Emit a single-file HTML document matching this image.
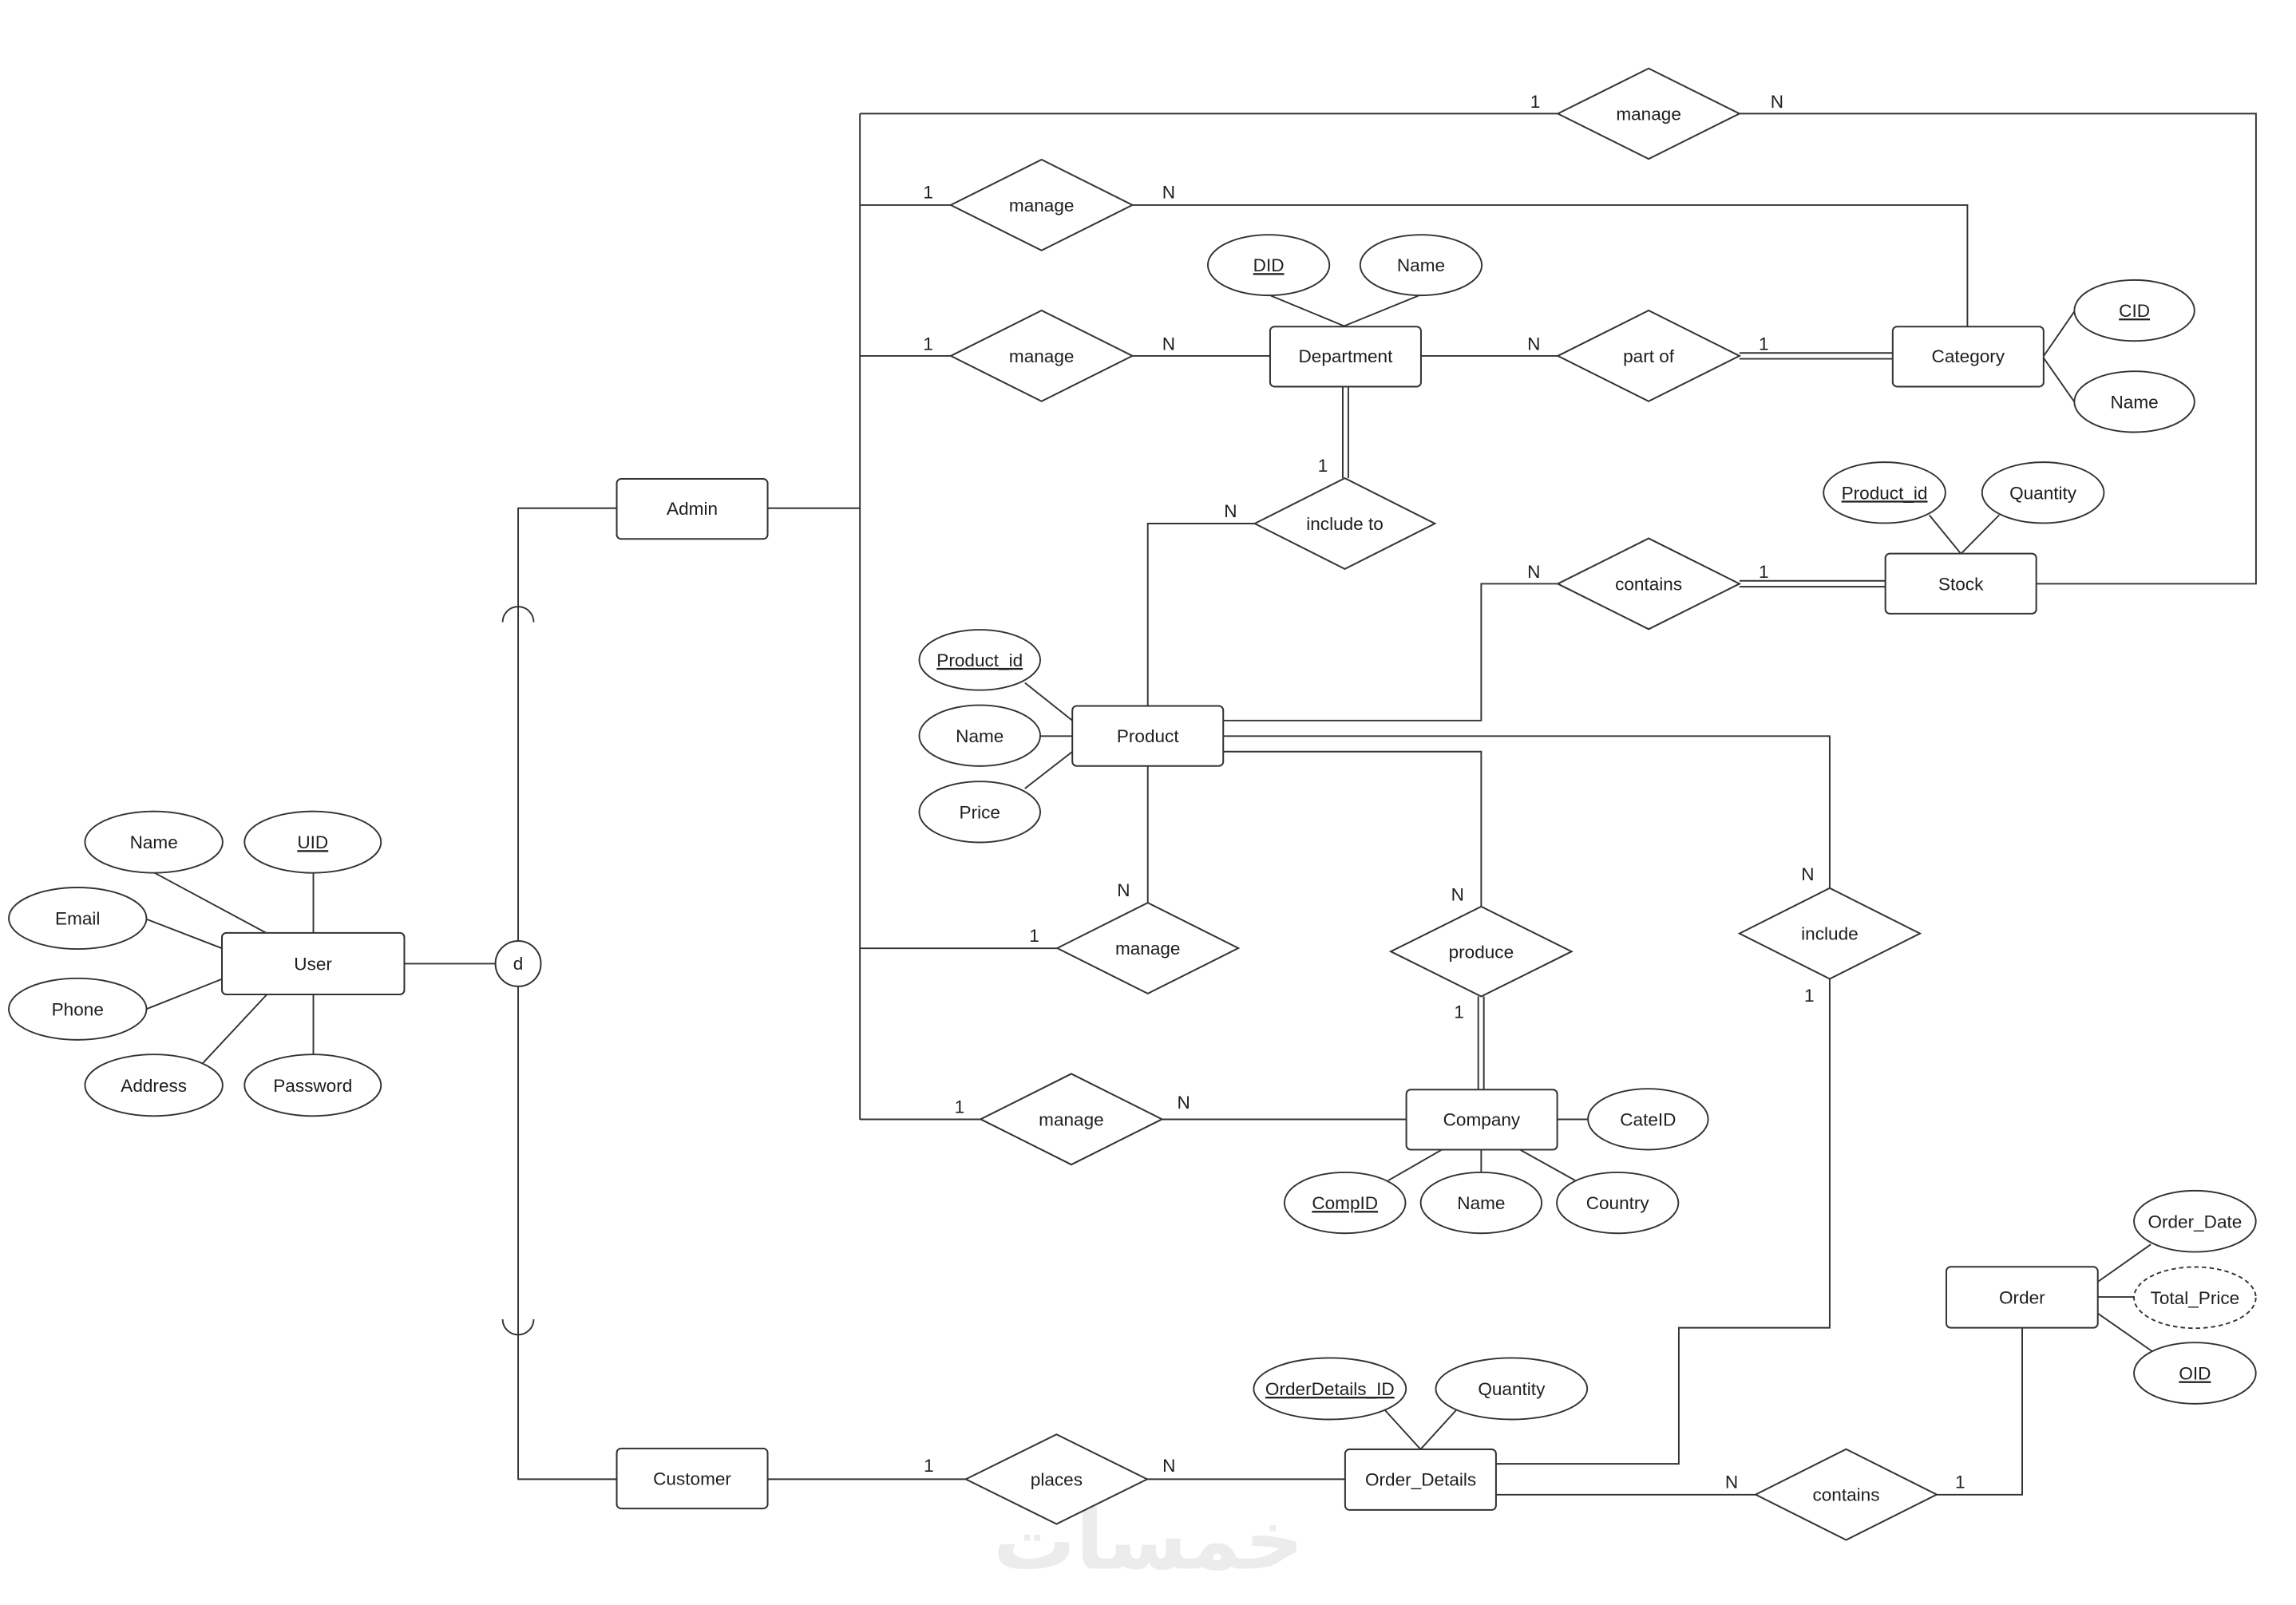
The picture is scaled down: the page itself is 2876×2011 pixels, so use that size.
<!DOCTYPE html>
<html>
<head>
<meta charset="utf-8">
<style>
  html,body{margin:0;padding:0;background:#ffffff;}
  svg{display:block;}
  text{font-family:"Liberation Sans", Arial, sans-serif;font-size:12.3px;fill:#1e1e1e;}
  .lbl{text-anchor:middle;}
  .u{text-decoration:underline;}
</style>
</head>
<body>
<svg width="2876" height="2011" viewBox="0 0 1567.3 1095.9" preserveAspectRatio="none" xmlns="http://www.w3.org/2000/svg">
  <rect x="0" y="0" width="1567.3" height="1095.9" fill="#ffffff"/>

  <!-- watermark -->
  <text x="784" y="1071" style="font-family:'DejaVu Sans',sans-serif;font-size:56px;font-weight:bold;fill:#ececec;text-anchor:middle;">خمسات</text>

  <g fill="none" stroke="#333" stroke-width="1.05">
    <!-- Admin trunk -->
    <path d="M587,77.6 V764.5"/>
    <path d="M524,347 H587"/>
    <!-- top manage to Stock -->
    <path d="M587,77.6 H1063.4"/>
    <path d="M1187.4,77.6 H1540 V398.6 H1390"/>
    <!-- manage 2 to Category -->
    <path d="M587,140 H649"/>
    <path d="M773,140 H1343 V223"/>
    <!-- manage 3 to Department -->
    <path d="M587,243 H649"/>
    <path d="M773,243 H867"/>
    <!-- Admin / Customer / d -->
    <path d="M421,347 H353.7 V642.5"/>
    <path d="M353.7,673.5 V1010 H421"/>
    <path d="M276,658 H338.2"/>
    <!-- subset arcs -->
    <path d="M343.1,424.8 A10.6,10.6 0 0 1 364.3,424.8"/>
    <path d="M343.1,900.8 A10.6,10.6 0 0 0 364.3,900.8"/>
    <!-- manage 4 to Product -->
    <path d="M587,647.5 H721.7"/>
    <path d="M783.5,616.4 V523"/>
    <path d="M783.5,482 V357.5 H856.5"/>
    <!-- manage 5 to Company -->
    <path d="M587,764.3 H669.4"/>
    <path d="M793.2,764.3 H959.8"/>
    <!-- Department - include to (double) -->
    <path d="M916.6,264 V326.5"/>
    <path d="M920.4,264 V326.5"/>
    <!-- Department - part of -->
    <path d="M970,243 H1063.4"/>
    <!-- part of - Category (double) -->
    <path d="M1187.4,241 H1292"/>
    <path d="M1187.4,245 H1292"/>
    <!-- Product lines -->
    <path d="M835,492 H1011.1 V398.6 H1063.4"/>
    <path d="M835,502.6 H1249 V606.4"/>
    <path d="M835,513.2 H1011.1 V619"/>
    <!-- contains - Stock (double) -->
    <path d="M1187.4,396.6 H1287"/>
    <path d="M1187.4,400.6 H1287"/>
    <!-- produce - Company (double) -->
    <path d="M1009.1,680.4 V744"/>
    <path d="M1012.9,680.4 V744"/>
    <!-- include - Order_Details -->
    <path d="M1249,668.4 V906.6 H1146 V999.5 H1021.3"/>
    <!-- Order_Details - contains - Order -->
    <path d="M1021.3,1020.6 H1198.4"/>
    <path d="M1322,1020.6 H1380.4 V906.6"/>
    <!-- Customer - places - Order_Details -->
    <path d="M524,1010 H659.3"/>
    <path d="M783.1,1010 H918.2"/>

    <!-- attribute connectors: User -->
    <path d="M105.5,596 L181.7,637"/>
    <path d="M213.9,596 V637"/>
    <path d="M99.9,627.6 L151.5,647.5"/>
    <path d="M99.9,689 L151.5,668.5"/>
    <path d="M138.4,726 L182.2,679"/>
    <path d="M213.9,679 V720"/>
    <!-- Department -->
    <path d="M867.5,201.9 L917.5,222.6 L968.3,201.9"/>
    <!-- Category -->
    <path d="M1416,212.7 L1394.6,243.8 L1416,274.4"/>
    <!-- Stock -->
    <path d="M1317,351.7 L1338.6,378.1 L1364.7,351.7"/>
    <!-- Product -->
    <path d="M699.6,466.2 L731.8,491.8"/>
    <path d="M710,502.6 H731.8"/>
    <path d="M699.6,538.4 L731.8,513.4"/>
    <!-- Company -->
    <path d="M1062.8,764.3 H1084"/>
    <path d="M947.7,806 L984.8,784.7"/>
    <path d="M1011.1,784.7 V800.4"/>
    <path d="M1037,784.7 L1075.2,806"/>
    <!-- Order_Details -->
    <path d="M944.9,962.3 L969.7,989.6 L994.5,962.3"/>
    <!-- Order -->
    <path d="M1432,875.2 L1468.2,849.7"/>
    <path d="M1432,885.6 H1456.7"/>
    <path d="M1432,896.8 L1469,922.6"/>
  </g>

  <!-- d circle -->
  <circle cx="353.7" cy="658" r="15.5" fill="#fff" stroke="#333" stroke-width="1.1"/>

  <!-- Entities -->
  <g fill="#fff" stroke="#333" stroke-width="1.1">
    <rect x="421" y="327" width="103" height="41" rx="3"/>
    <rect x="151.5" y="637" width="124.5" height="42" rx="3"/>
    <rect x="867" y="223" width="103" height="41" rx="3"/>
    <rect x="1292" y="223" width="103" height="41" rx="3"/>
    <rect x="1287" y="378" width="103" height="41" rx="3"/>
    <rect x="732" y="482" width="103" height="41" rx="3"/>
    <rect x="960" y="744" width="103" height="41" rx="3"/>
    <rect x="421" y="989" width="103" height="41" rx="3"/>
    <rect x="918.2" y="989.6" width="103" height="41.4" rx="3"/>
    <rect x="1328.6" y="865" width="103.4" height="41.6" rx="3"/>
  </g>

  <!-- Relationships (diamonds) -->
  <g fill="#fff" stroke="#333" stroke-width="1.1">
    <polygon points="1063.4,77.6 1125.4,46.7 1187.4,77.6 1125.4,108.5"/>
    <polygon points="649,140 711,109 773,140 711,171"/>
    <polygon points="649,243 711,212 773,243 711,274"/>
    <polygon points="1063.4,243 1125.4,212 1187.4,243 1125.4,274"/>
    <polygon points="856.5,357.5 918,326.5 979.5,357.5 918,388.5"/>
    <polygon points="1063.4,398.6 1125.4,367.6 1187.4,398.6 1125.4,429.6"/>
    <polygon points="721.7,647.4 783.5,616.4 845.3,647.4 783.5,678.4"/>
    <polygon points="949.4,649.7 1011.1,619 1072.8,649.7 1011.1,680.4"/>
    <polygon points="1187.4,637.4 1249,606.4 1310.6,637.4 1249,668.4"/>
    <polygon points="669.4,764.2 731.3,733.2 793.2,764.2 731.3,795.2"/>
    <polygon points="659.3,1010 721.2,979.4 783.1,1010 721.2,1040.6"/>
    <polygon points="1198.4,1020.5 1260.2,989.5 1322,1020.5 1260.2,1051.5"/>
  </g>

  <!-- Attributes (ellipses) -->
  <g fill="#fff" stroke="#333" stroke-width="1.05">
    <ellipse cx="105" cy="575" rx="47" ry="21"/>
    <ellipse cx="213.5" cy="575" rx="46.6" ry="21"/>
    <ellipse cx="53" cy="627" rx="47" ry="21"/>
    <ellipse cx="53" cy="689" rx="47" ry="21"/>
    <ellipse cx="105" cy="741" rx="47" ry="21"/>
    <ellipse cx="213.5" cy="741" rx="46.6" ry="21"/>
    <ellipse cx="866" cy="181" rx="41.5" ry="20.7"/>
    <ellipse cx="970" cy="181" rx="41.5" ry="20.7"/>
    <ellipse cx="1457" cy="212" rx="41" ry="20.8"/>
    <ellipse cx="1457" cy="274.3" rx="41" ry="20.8"/>
    <ellipse cx="1286.4" cy="336.4" rx="41.6" ry="20.8"/>
    <ellipse cx="1394.6" cy="336.4" rx="41.6" ry="20.8"/>
    <ellipse cx="668.8" cy="450.6" rx="41.3" ry="20.6"/>
    <ellipse cx="668.8" cy="502.3" rx="41.3" ry="20.8"/>
    <ellipse cx="668.8" cy="554.4" rx="41.3" ry="20.8"/>
    <ellipse cx="1125" cy="764.2" rx="41" ry="20.8"/>
    <ellipse cx="918.1" cy="821.3" rx="41.3" ry="20.8"/>
    <ellipse cx="1011.1" cy="821.3" rx="41.3" ry="20.8"/>
    <ellipse cx="1104.2" cy="821.3" rx="41.5" ry="20.8"/>
    <ellipse cx="907.8" cy="948.2" rx="52" ry="21"/>
    <ellipse cx="1031.8" cy="948.2" rx="51.7" ry="21"/>
    <ellipse cx="1498.3" cy="833.9" rx="41.6" ry="20.9"/>
    <ellipse cx="1498.3" cy="886" rx="41.6" ry="20.9" stroke-dasharray="3,2.2"/>
    <ellipse cx="1498.3" cy="937.6" rx="41.6" ry="20.9"/>
  </g>

  <!-- Entity labels -->
  <text class="lbl" x="472.5" y="351.4">Admin</text>
  <text class="lbl" x="213.7" y="662.4">User</text>
  <text class="lbl" x="918.5" y="247.4">Department</text>
  <text class="lbl" x="1343.5" y="247.4">Category</text>
  <text class="lbl" x="1338.5" y="403">Stock</text>
  <text class="lbl" x="783.5" y="506.9">Product</text>
  <text class="lbl" x="1011.4" y="768.7">Company</text>
  <text class="lbl" x="472.5" y="1013.9">Customer</text>
  <text class="lbl" x="969.8" y="1014.4">Order_Details</text>
  <text class="lbl" x="1380.3" y="890.2">Order</text>

  <!-- Relationship labels -->
  <text class="lbl" x="1125.4" y="82">manage</text>
  <text class="lbl" x="711" y="144.4">manage</text>
  <text class="lbl" x="711" y="247.4">manage</text>
  <text class="lbl" x="1125.4" y="247.4">part of</text>
  <text class="lbl" x="918" y="361.9">include to</text>
  <text class="lbl" x="1125.4" y="403">contains</text>
  <text class="lbl" x="783.5" y="651.8">manage</text>
  <text class="lbl" x="1011.1" y="654.1">produce</text>
  <text class="lbl" x="1249" y="641.8">include</text>
  <text class="lbl" x="731.3" y="768.6">manage</text>
  <text class="lbl" x="721.2" y="1014.4">places</text>
  <text class="lbl" x="1260.2" y="1024.9">contains</text>

  <!-- Attribute labels -->
  <text class="lbl" x="105" y="579.4">Name</text>
  <text class="lbl u" x="213.5" y="579.4">UID</text>
  <text class="lbl" x="53" y="631.4">Email</text>
  <text class="lbl" x="53" y="693.4">Phone</text>
  <text class="lbl" x="105" y="745.4">Address</text>
  <text class="lbl" x="213.5" y="745.4">Password</text>
  <text class="lbl u" x="866" y="185.4">DID</text>
  <text class="lbl" x="970" y="185.4">Name</text>
  <text class="lbl u" x="1457" y="216.4">CID</text>
  <text class="lbl" x="1457" y="278.7">Name</text>
  <text class="lbl u" x="1286.4" y="340.8">Product_id</text>
  <text class="lbl" x="1394.6" y="340.8">Quantity</text>
  <text class="lbl u" x="668.8" y="455">Product_id</text>
  <text class="lbl" x="668.8" y="506.7">Name</text>
  <text class="lbl" x="668.8" y="558.8">Price</text>
  <text class="lbl" x="1125" y="768.6">CateID</text>
  <text class="lbl u" x="918.1" y="825.7">CompID</text>
  <text class="lbl" x="1011.1" y="825.7">Name</text>
  <text class="lbl" x="1104.2" y="825.7">Country</text>
  <text class="lbl u" x="907.8" y="952.6">OrderDetails_ID</text>
  <text class="lbl" x="1031.8" y="952.6">Quantity</text>
  <text class="lbl" x="1498.3" y="838.3">Order_Date</text>
  <text class="lbl" x="1498.3" y="890.4">Total_Price</text>
  <text class="lbl u" x="1498.3" y="942">OID</text>
  <text class="lbl" x="353.7" y="662.2">d</text>

  <!-- Cardinality labels -->
  <text class="lbl" x="1048" y="73.5">1</text>
  <text class="lbl" x="1213" y="73.5">N</text>
  <text class="lbl" x="633.6" y="135.5">1</text>
  <text class="lbl" x="797.8" y="135.5">N</text>
  <text class="lbl" x="633.6" y="239">1</text>
  <text class="lbl" x="797.8" y="239">N</text>
  <text class="lbl" x="1047" y="239">N</text>
  <text class="lbl" x="1204" y="239">1</text>
  <text class="lbl" x="903" y="322">1</text>
  <text class="lbl" x="840" y="353">N</text>
  <text class="lbl" x="1047" y="394.5">N</text>
  <text class="lbl" x="1204" y="394.5">1</text>
  <text class="lbl" x="767" y="612">N</text>
  <text class="lbl" x="706" y="643">1</text>
  <text class="lbl" x="995" y="615">N</text>
  <text class="lbl" x="996" y="695">1</text>
  <text class="lbl" x="1234" y="601">N</text>
  <text class="lbl" x="1235" y="684">1</text>
  <text class="lbl" x="655" y="760">1</text>
  <text class="lbl" x="808" y="757">N</text>
  <text class="lbl" x="634" y="1005">1</text>
  <text class="lbl" x="798" y="1005">N</text>
  <text class="lbl" x="1182" y="1016">N</text>
  <text class="lbl" x="1338" y="1016">1</text>
</svg>
</body>
</html>
